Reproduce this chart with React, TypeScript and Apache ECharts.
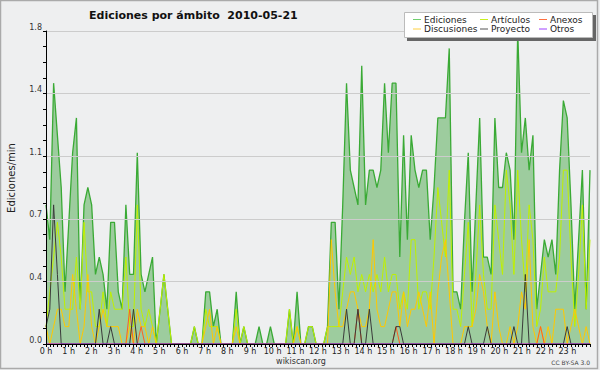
import React, { useEffect, useRef } from 'react';
import * as echarts from 'echarts';

// 10-minute buckets (144 per day), values in edits per minute
const ediciones = [
  0.8, 0.6, 1.5, 1.2, 0.9, 0.3, 0.7, 1.1, 1.3, 0.2, 0.8, 0.9,
  0.8, 0.4, 0.5, 0.4, 0.2, 0.7, 0.7, 0.3, 0.2, 0.8, 0.4, 0.4,
  1.1, 0.4, 0.3, 0.4, 0.5, 0, 0.2, 0.4, 0.2, 0, 0, 0,
  0, 0, 0, 0.1, 0, 0, 0.3, 0.3, 0.1, 0.2, 0, 0,
  0, 0, 0.3, 0, 0.1, 0, 0, 0, 0.1, 0, 0, 0.1,
  0, 0, 0, 0, 0.2, 0, 0.3, 0, 0, 0.1, 0.1, 0,
  0, 0, 0.1, 0.7, 0.7, 0.2, 0.8, 1.5, 1.0, 0.9, 0.8, 1.6,
  0.8, 1.0, 1.0, 0.9, 1.0, 1.5, 1.1, 1.5, 1.5, 0.5, 1.2, 0.6,
  1.2, 1.0, 0.9, 1.0, 1.0, 0.6, 0.9, 1.3, 1.3, 1.3, 1.7, 0.3,
  0.3, 0.2, 0.7, 1.1, 0.3, 0.8, 1.3, 0.5, 0.5, 0.4, 1.3, 0.9,
  0.9, 1.1, 1.0, 0.6, 1.8, 1.1, 1.3, 1.0, 1.2, 0.2, 0.4, 0.6,
  0.5, 0.6, 0.4, 1.0, 1.4, 1.3, 0.8, 0.2, 0.6, 1.0, 0.2, 1.0,
];
const articulos = [
  0.1, 0.3, 0.5, 0.7, 0.5, 0.2, 0.2, 0.2, 0.5, 0.2, 0.7, 0.3,
  0.3, 0.1, 0.1, 0.3, 0.1, 0.3, 0.2, 0.2, 0.2, 0.5, 0.1, 0.1,
  0.8, 0.2, 0.1, 0.2, 0.1, 0, 0.2, 0.4, 0.2, 0, 0, 0,
  0, 0, 0, 0.1, 0, 0, 0.2, 0.1, 0.1, 0.1, 0, 0,
  0, 0, 0.2, 0, 0.1, 0, 0, 0, 0, 0, 0, 0,
  0, 0, 0, 0, 0.2, 0, 0.1, 0, 0, 0.1, 0.1, 0,
  0, 0, 0.1, 0.1, 0.1, 0.1, 0.3, 0.5, 0.4, 0.5, 0.3, 0.4,
  0.3, 0.4, 0.3, 0.4, 0.3, 0.5, 0.3, 0.4, 0.4, 0.2, 0.3, 0.2,
  0.6, 0.6, 0.2, 0.3, 0.3, 0.2, 0.5, 0.9, 0.7, 0.5, 1.0, 0.2,
  0.2, 0.1, 0.4, 0.7, 0.1, 0.4, 0.8, 0.4, 0.2, 0.2, 0.8, 0.6,
  0.4, 1.0, 0.8, 0.4, 1.0, 0.6, 0.3, 0.8, 0.6, 0.1, 0.2, 0.5,
  0.3, 0.3, 0.3, 0.5, 1.0, 1.0, 0.5, 0.1, 0.4, 0.8, 0.2, 0.6,
];
const discusiones = [
  0.1, 0, 0.1, 0.2, 0.2, 0.1, 0.1, 0.4, 0.2, 0, 0.1, 0.4,
  0.1, 0, 0.1, 0.2, 0.1, 0.1, 0.1, 0.1, 0, 0, 0.1, 0,
  0.2, 0.1, 0.1, 0, 0.1, 0, 0, 0, 0, 0, 0, 0,
  0, 0, 0, 0, 0, 0, 0.1, 0.2, 0, 0.1, 0, 0,
  0, 0, 0.1, 0, 0, 0, 0, 0, 0, 0, 0, 0,
  0, 0, 0, 0, 0, 0, 0.1, 0, 0, 0, 0, 0,
  0, 0, 0, 0.6, 0.3, 0.1, 0.1, 0.2, 0.3, 0.3, 0.2, 0.1,
  0.1, 0.2, 0.6, 0.2, 0.1, 0.1, 0.2, 0.3, 0.3, 0.1, 0.3, 0.1,
  0.2, 0.2, 0.3, 0.2, 0.1, 0.3, 0, 0.3, 0.5, 0.6, 0.3, 0,
  0, 0, 0.1, 0.1, 0.1, 0.2, 0.4, 0.3, 0.1, 0, 0.3, 0.1,
  0, 0, 0.1, 0, 0.1, 0.3, 0.2, 0.6, 0.1, 0, 0.1, 0,
  0.1, 0, 0.2, 0.2, 0.2, 0, 0.1, 0.2, 0.1, 0, 0.1, 0,
];
const anexos = [
  0, 0, 0, 0, 0, 0, 0, 0, 0, 0, 0, 0,
  0, 0, 0, 0, 0, 0, 0, 0, 0, 0, 0.2, 0,
  0, 0.1, 0, 0, 0, 0, 0, 0, 0, 0, 0, 0,
  0, 0, 0, 0, 0, 0, 0, 0, 0, 0, 0, 0,
  0, 0, 0, 0, 0, 0, 0, 0, 0, 0, 0, 0,
  0, 0, 0, 0, 0, 0, 0, 0, 0, 0, 0, 0,
  0, 0, 0, 0, 0, 0, 0, 0, 0, 0, 0.2, 0,
  0, 0, 0, 0, 0, 0, 0, 0, 0.1, 0, 0, 0,
  0, 0, 0, 0, 0, 0, 0, 0, 0, 0, 0, 0,
  0, 0, 0, 0, 0, 0, 0, 0, 0, 0, 0, 0,
  0, 0, 0, 0, 0, 0, 0, 0, 0, 0, 0.1, 0,
  0, 0, 0, 0, 0, 0, 0, 0, 0, 0, 0, 0,
];
const proyecto = [
  0.1, 0.2, 0.8, 0.4, 0, 0, 0, 0, 0, 0, 0, 0,
  0, 0, 0.2, 0, 0, 0.1, 0, 0, 0, 0, 0, 0.2,
  0, 0, 0, 0, 0, 0, 0, 0, 0, 0, 0, 0,
  0, 0, 0, 0, 0, 0, 0, 0, 0, 0, 0, 0,
  0, 0, 0, 0, 0, 0, 0, 0, 0, 0, 0, 0,
  0, 0, 0, 0, 0, 0, 0, 0, 0, 0, 0, 0,
  0, 0, 0, 0, 0, 0, 0, 0.2, 0, 0, 0.2, 0,
  0, 0.2, 0, 0, 0, 0, 0, 0, 0.1, 0.1, 0, 0,
  0, 0, 0, 0, 0, 0, 0, 0, 0, 0, 0, 0,
  0, 0, 0, 0.1, 0, 0, 0, 0, 0.1, 0, 0, 0,
  0, 0, 0, 0.1, 0, 0, 0.4, 0, 0, 0, 0, 0,
  0, 0, 0, 0, 0, 0.1, 0, 0, 0, 0, 0, 0,
];
const otros = [
  0, 0, 0, 0, 0, 0, 0, 0, 0, 0, 0, 0,
  0, 0, 0, 0, 0, 0, 0, 0, 0, 0, 0, 0,
  0, 0, 0, 0, 0, 0, 0, 0, 0, 0, 0, 0,
  0, 0, 0, 0, 0, 0, 0, 0, 0, 0, 0, 0,
  0, 0, 0, 0, 0, 0, 0, 0, 0, 0, 0, 0,
  0, 0, 0, 0, 0, 0, 0, 0, 0, 0, 0, 0,
  0, 0, 0, 0, 0, 0, 0, 0, 0, 0, 0, 0,
  0, 0, 0, 0, 0, 0, 0, 0, 0, 0, 0, 0,
  0, 0, 0, 0, 0, 0, 0, 0, 0, 0, 0, 0,
  0, 0, 0, 0, 0, 0, 0, 0, 0, 0, 0, 0,
  0, 0, 0, 0, 0, 0, 0, 0, 0, 0, 0, 0,
  0, 0, 0, 0, 0, 0, 0, 0, 0, 0, 0, 0,
];

const hourLabels = [
  '0 h', '1 h', '2 h', '3 h', '4 h', '5 h', '6 h', '7 h', '8 h', '9 h', '10 h', '11 h',
  '12 h', '13 h', '14 h', '15 h', '16 h', '17 h', '18 h', '19 h', '20 h', '21 h', '22 h', '23 h',
];
const yTickLabels = ['0.0', '0.4', '0.7', '1.1', '1.4', '1.8'];

const legendItems = [
  { name: 'Ediciones', color: '#6fcf6f', col: 0, row: 0 },
  { name: 'Artículos', color: '#c8f020', col: 1, row: 0 },
  { name: 'Anexos', color: '#ff7040', col: 2, row: 0 },
  { name: 'Discusiones', color: '#ffd040', col: 0, row: 1 },
  { name: 'Proyecto', color: '#555555', col: 1, row: 1 },
  { name: 'Otros', color: '#a040ff', col: 2, row: 1 },
];

const FONT = 'DejaVu Sans';

export default function App() {
  const ref = useRef<HTMLDivElement>(null);
  useEffect(() => {
    document.body.style.margin = '0';
    const chart = echarts.init(ref.current!, null, { renderer: 'svg' });
    const pts = (arr: number[]) => arr.map((v, i) => [i, v]);
    const lineSeries = (name: string, data: number[], color: string, width = 1) => ({
      name,
      type: 'line',
      xAxisIndex: 1,
      data: pts(data),
      symbol: 'none',
      lineStyle: { color, width },
      itemStyle: { color },
    });
    const colX = [413, 480, 539];
    const rowY = [19.5, 29];
    const legendGraphics: any[] = [];
    legendItems.forEach((it) => {
      const x = colX[it.col];
      const y = rowY[it.row];
      legendGraphics.push({
        type: 'line',
        shape: { x1: x, y1: y, x2: x + 8, y2: y },
        style: { stroke: it.color, lineWidth: 1 },
        z: 102,
      });
      legendGraphics.push({
        type: 'text',
        x: x + 11,
        y,
        style: { text: it.name, font: `9px "${FONT}"`, fill: '#222', verticalAlign: 'middle' },
        z: 102,
      });
    });

    chart.setOption({
      animation: false,
      backgroundColor: '#eeeff0',
      title: {
        text: 'Ediciones por ámbito  2010-05-21',
        left: 84,
        top: 5,
        textStyle: { fontFamily: FONT, fontSize: 11, fontWeight: 'bold', color: '#111' },
      },
      grid: { left: 46, right: 10, top: 31, bottom: 26 },
      xAxis: [
        {
          type: 'value',
          min: 0,
          max: 24,
          interval: 1,
          z: 10,
          axisLine: { show: true, lineStyle: { color: '#000', width: 1 } },
          axisTick: { show: true, length: 3, lineStyle: { color: '#000' } },
          minorTick: { show: true, splitNumber: 6, length: 3, lineStyle: { color: '#000' } },
          splitLine: { show: false },
          axisLabel: {
            formatter: (v: number) => hourLabels[v] ?? '',
            fontFamily: FONT,
            fontSize: 8,
            color: '#222',
            margin: 3,
          },
        },
        { type: 'value', min: 0, max: 143, show: false },
      ],
      yAxis: {
        type: 'value',
        min: 0,
        max: 1.8,
        interval: 0.36,
        z: 10,
        axisLine: { show: true, lineStyle: { color: '#000', width: 1 } },
        axisTick: { show: true, length: 3, lineStyle: { color: '#000' } },
        minorTick: { show: true, splitNumber: 4, length: 3, lineStyle: { color: '#000' } },
        splitLine: { show: true, lineStyle: { color: '#cccccc', width: 1 } },
        axisLabel: {
          formatter: (v: number) => yTickLabels[Math.round(v / 0.36)] ?? '',
          fontFamily: FONT,
          fontSize: 8,
          color: '#333',
          margin: 4,
          verticalAlign: 'bottom',
        },
      },
      series: [
        {
          ...lineSeries('Ediciones', ediciones, '#3aaa35', 1.3),
          areaStyle: { color: '#4caa4c', opacity: 0.5 },
        },
        lineSeries('Artículos', articulos, '#bff000'),
        lineSeries('Discusiones', discusiones, '#ffc800'),
        lineSeries('Anexos', anexos, '#ff6020'),
        lineSeries('Proyecto', proyecto, '#3a3a3a'),
        lineSeries('Otros', otros, '#9933ff'),
      ],
      graphic: [
        {
          type: 'rect',
          shape: { x: 0.5, y: 0.5, width: 597, height: 368 },
          style: { fill: 'none', stroke: '#aaaaaa', lineWidth: 1.5 },
          z: 100,
        },
        {
          type: 'rect',
          shape: { x: 407, y: 15, width: 189, height: 26 },
          style: { fill: '#666666' },
          z: 100,
        },
        {
          type: 'rect',
          shape: { x: 404.5, y: 12.5, width: 188, height: 25 },
          style: { fill: '#ffffff', stroke: '#bbbbbb', lineWidth: 1 },
          z: 101,
        },
        ...legendGraphics,
        {
          type: 'text',
          x: 11,
          y: 178,
          rotation: Math.PI / 2,
          style: {
            text: 'Ediciones/min',
            font: `10px "${FONT}"`,
            fill: '#222',
            align: 'center',
            verticalAlign: 'middle',
          },
        },
        {
          type: 'text',
          x: 301,
          y: 361,
          style: { text: 'wikiscan.org', font: `8px "${FONT}"`, fill: '#333', align: 'center', verticalAlign: 'middle' },
        },
        {
          type: 'text',
          x: 590,
          y: 362,
          style: { text: 'CC BY-SA 3.0', font: `6px "${FONT}"`, fill: '#444', align: 'right', verticalAlign: 'middle' },
        },
      ],
    });
    return () => chart.dispose();
  }, []);
  return <div ref={ref} style={{ width: 600, height: 370 }} />;
}
